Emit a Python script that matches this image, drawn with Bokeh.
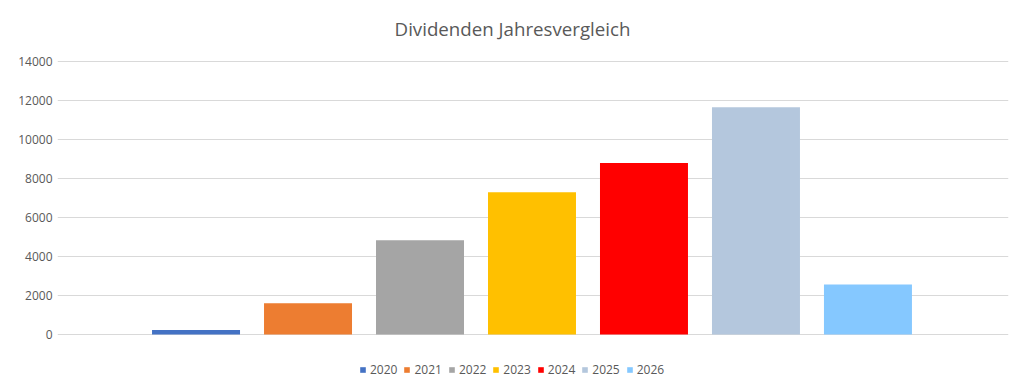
from bokeh.plotting import figure
from bokeh.models import ColumnDataSource, Range1d, Legend, LegendItem, FixedTicker, Label
from bokeh.embed import file_html
from bokeh.resources import INLINE

years = ["2020", "2021", "2022", "2023", "2024", "2025", "2026"]
values = [230, 1600, 4830, 7300, 8790, 11660, 2570]
colors = ["#4472C4", "#ED7D31", "#A5A5A5", "#FFC000", "#FF0000", "#B4C7DD", "#85C8FF"]
y_ticks = [0, 2000, 4000, 6000, 8000, 10000, 12000, 14000]
title_text = "Dividenden Jahresvergleich"

FONT = "Open Sans"
TXT = "#595959"

p = figure(width=1024, height=380, output_backend="svg", toolbar_location=None,
           x_range=Range1d(2018.763, 2027.255), y_range=Range1d(-2359, 17128),
           min_border_left=57, min_border_right=16, min_border_top=0, min_border_bottom=0)
p.outline_line_color = None
p.xaxis.visible = False
p.xgrid.visible = False
p.ygrid.grid_line_color = "#D9D9D9"
p.ygrid.grid_line_width = 1

p.yaxis.ticker = FixedTicker(ticks=y_ticks)
p.yaxis.axis_line_color = None
p.yaxis.major_tick_line_color = None
p.yaxis.minor_tick_line_color = None
p.yaxis.major_tick_out = 0
p.yaxis.major_tick_in = 0
p.yaxis.minor_tick_out = 0
p.yaxis.major_label_standoff = 5
p.yaxis.major_label_text_font = FONT
p.yaxis.major_label_text_font_size = "12px"
p.yaxis.major_label_text_color = TXT

items = []
for i, (yr, v, c) in enumerate(zip(years, values, colors)):
    src = ColumnDataSource(dict(x=[int(yr)], top=[v]))
    r = p.vbar(x="x", top="top", bottom=0, width=0.7857, source=src,
               fill_color=c, line_color=None)
    items.append(LegendItem(label=yr, renderers=[r]))

legend = Legend(items=items, orientation="horizontal", location=(302, 2),
                glyph_width=7, glyph_height=7, label_standoff=4, spacing=6,
                padding=0, margin=0, label_height=14,
                label_text_font=FONT, label_text_font_size="12px",
                label_text_color=TXT, border_line_color=None,
                background_fill_alpha=0)
p.add_layout(legend, "center")

title = Label(x=455, y=352, x_units="screen", y_units="screen", text=title_text,
              text_align="center", text_baseline="middle",
              text_font=FONT, text_font_size="18.7px", text_color=TXT)
p.add_layout(title)

open("out.html", "w").write(file_html(p, INLINE))
